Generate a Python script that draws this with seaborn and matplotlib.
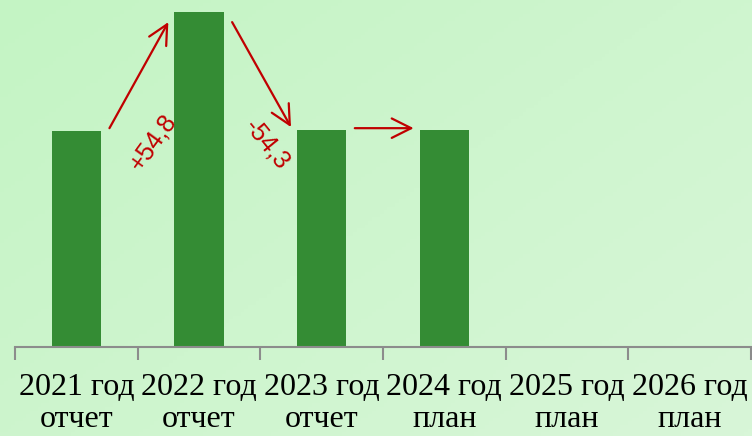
import numpy as np
import pandas as pd
import matplotlib
matplotlib.use("Agg")
import matplotlib.pyplot as plt
from matplotlib.colors import LinearSegmentedColormap
import seaborn as sns

# chart data
years = ["2021 год", "2022 год", "2023 год", "2024 год", "2025 год", "2026 год"]
kinds = ["отчет", "отчет", "отчет", "план", "план", "план"]
values = [99.5, 154.3, 100.0, 100.0, np.nan, np.nan]
changes = ["+54,8", "-54,3", ""]

labels = [f"{y}\n{k}" for y, k in zip(years, kinds)]
df = pd.DataFrame({"label": labels, "value": values})

bar_color = "#348c34"
red = "#c00000"

sns.set_style("white")
plt.rcParams["font.family"] = ["Liberation Serif", "DejaVu Serif"]

fig = plt.figure(figsize=(7.52, 4.36), dpi=100)

# soft diagonal green background
bg = fig.add_axes([0, 0, 1, 1], zorder=-10)
gx, gy = np.meshgrid(np.linspace(0, 1, 200), np.linspace(0, 1, 120))
grad = (gx * 0.55 + gy * 0.45)
cmap = LinearSegmentedColormap.from_list("bg", ["#c4f4c4", "#d8f6d8"])
bg.imshow(grad, cmap=cmap, aspect="auto", extent=[0, 1, 0, 1], origin="upper")
bg.axis("off")

ax = fig.add_axes([15 / 752, 1 - 347 / 436, 736 / 752, 347 / 436])
ax.patch.set_alpha(0)

sns.barplot(data=df, x="label", y="value", order=labels, color=bar_color,
            width=0.4, saturation=1, ax=ax, errorbar=None, linewidth=0)

ax.set_xlim(-0.5, len(labels) - 0.5)
ax.set_ylim(0, 160)
ax.set_xlabel("")
ax.set_ylabel("")
ax.set_yticks([])
for s in ["top", "right", "left"]:
    ax.spines[s].set_visible(False)
ax.spines["bottom"].set_color("#8c8c8c")
ax.spines["bottom"].set_linewidth(1.5)

# category borders as major ticks, labels on minor ticks
ax.set_xticks(np.arange(-0.5, len(labels)), labels=[""] * (len(labels) + 1))
ax.set_xticks(np.arange(len(labels)), labels=labels, minor=True)
ax.tick_params(axis="x", which="major", bottom=True, length=9, width=1.5,
               color="#8c8c8c", direction="out")
ax.tick_params(axis="x", which="minor", bottom=True, length=0, pad=19,
               labelsize=23, labelcolor="black")
for t in ax.get_xticklabels(minor=True):
    t.set_linespacing(1.12)

# change arrows between bars
arrow_kw = dict(arrowstyle="->,head_length=1.0,head_width=0.5",
                color=red, lw=1.6, mutation_scale=14, shrinkA=0, shrinkB=0)
for i in range(3):
    a, b = values[i], values[i + 1]
    if b > a:
        y0, y1 = a + 1.4, b - 4.5
    elif b < a:
        y0, y1 = a - 4.5, b + 1.4
    else:
        y0 = y1 = a + 0.9
    ax.annotate("", xy=(i + 0.75, y1), xytext=(i + 0.27, y0),
                arrowprops=arrow_kw)

ax.text(0.62, 94.5, changes[0], color=red, fontsize=18, rotation=54,
        ha="center", va="center", family="Liberation Sans")
ax.text(1.555, 93.5, changes[1], color=red, fontsize=18, rotation=-51,
        ha="center", va="center", family="Liberation Sans")

fig.savefig("out.png", dpi=100)
